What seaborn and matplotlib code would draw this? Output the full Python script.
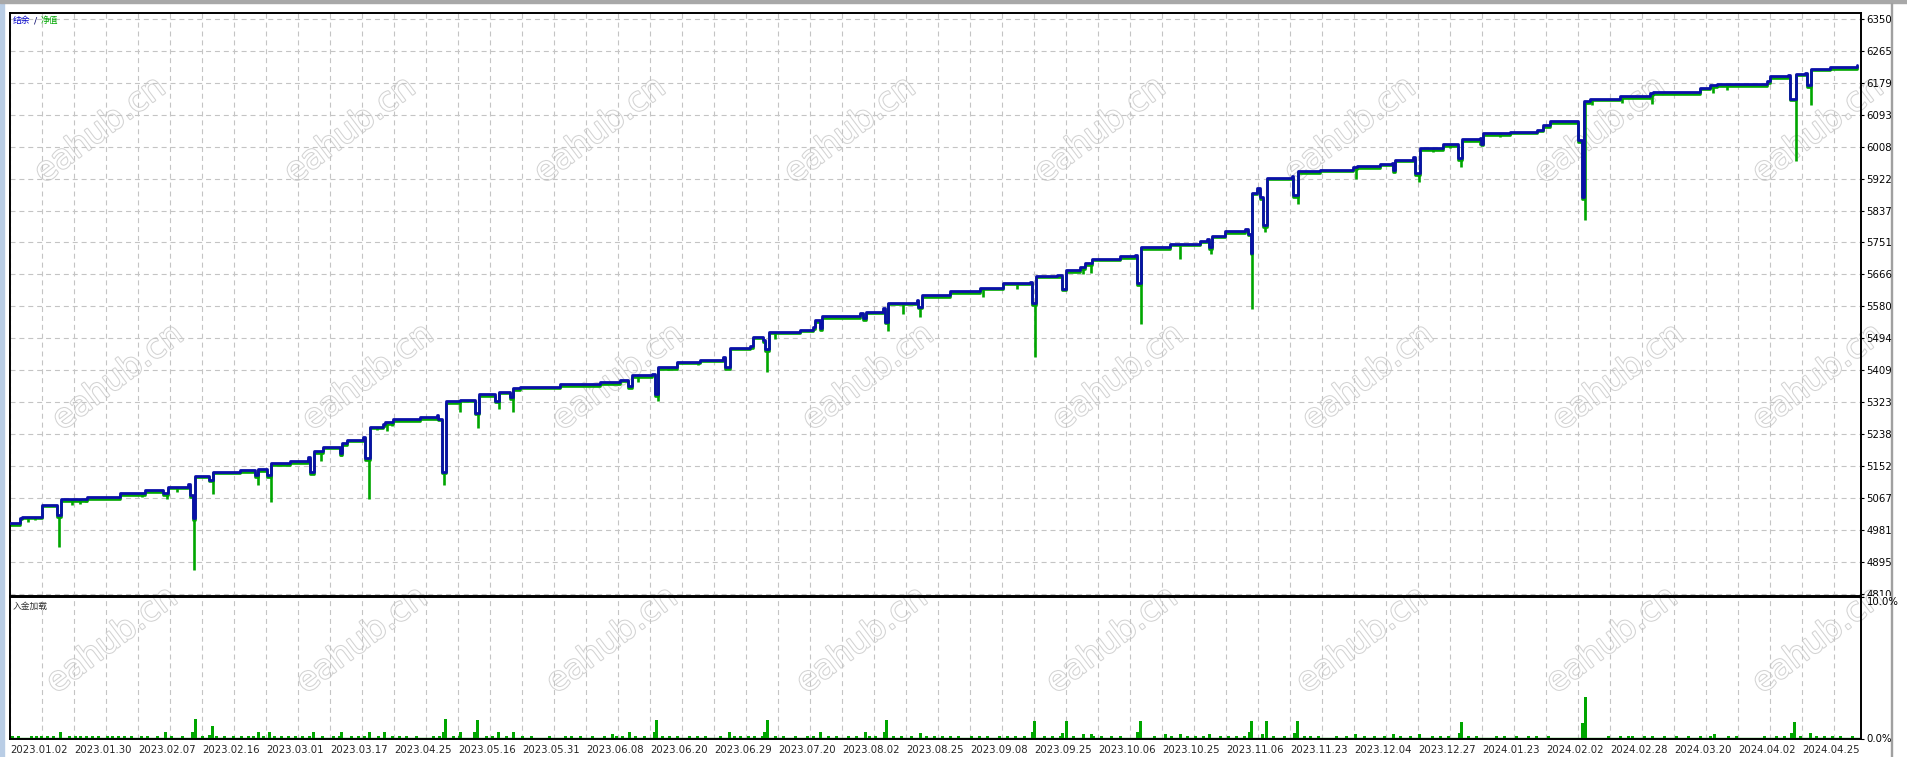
import matplotlib
matplotlib.use("Agg")
import matplotlib.pyplot as plt
import matplotlib.patheffects as pe
from matplotlib.patches import Rectangle
from matplotlib.transforms import Bbox, ScaledTranslation
import seaborn as sns
import numpy as np
import pandas as pd

W, H = 1907, 757

# balance curve (position along the test, balance)
bal_x = [0, 10, 12, 32, 47, 51, 77, 110, 135, 153, 158, 178, 180, 183, 185, 199, 203, 230, 245, 248,
         257, 261, 280, 298, 300, 304, 313, 330, 332, 337, 353, 355, 360, 373, 375, 383, 410, 427, 428, 432,
         436, 450, 465, 469, 485, 489, 500, 503, 510, 550, 590, 610, 618, 622, 642, 645, 648, 667, 690, 713,
         715, 720, 740, 743, 753, 755, 759, 790, 803, 805, 810, 812, 850, 853, 856, 873, 875, 878, 907, 908,
         912, 940, 970, 993, 1020, 1022, 1026, 1047, 1052, 1056, 1070, 1075, 1082, 1110, 1125, 1127, 1131, 1160, 1190, 1197,
         1199, 1202, 1215, 1235, 1238, 1241, 1242, 1247, 1250, 1253, 1257, 1282, 1283, 1288, 1310, 1343, 1347, 1370, 1382, 1383,
         1385, 1403, 1405, 1410, 1433, 1448, 1452, 1470, 1471, 1473, 1500, 1527, 1533, 1540, 1567, 1568, 1572, 1574, 1580, 1610,
         1640, 1643, 1690, 1700, 1707, 1757, 1760, 1778, 1780, 1786, 1795, 1797, 1801, 1820, 1847]
bal_v = [5000, 5015, 5017, 5049, 5022, 5064, 5070, 5080, 5088, 5080, 5098, 5105, 5075, 5013, 5127, 5116, 5138, 5142, 5129, 5145,
         5129, 5160, 5166, 5176, 5137, 5193, 5205, 5187, 5214, 5223, 5231, 5174, 5258, 5265, 5271, 5278, 5283, 5289, 5280, 5138,
         5327, 5330, 5296, 5345, 5328, 5352, 5337, 5361, 5365, 5372, 5378, 5384, 5367, 5396, 5400, 5345, 5417, 5432, 5437, 5445,
         5417, 5470, 5474, 5499, 5490, 5465, 5512, 5518, 5524, 5543, 5521, 5554, 5563, 5548, 5566, 5575, 5539, 5590, 5598, 5579,
         5610, 5621, 5630, 5644, 5646, 5588, 5662, 5664, 5628, 5677, 5685, 5695, 5708, 5715, 5717, 5642, 5739, 5748, 5756, 5760,
         5739, 5769, 5782, 5786, 5775, 5724, 5884, 5896, 5873, 5797, 5924, 5928, 5878, 5942, 5946, 5952, 5956, 5962, 5965, 5944,
         5973, 5980, 5936, 6003, 6014, 5976, 6027, 6030, 6016, 6043, 6048, 6053, 6065, 6075, 6076, 6025, 5873, 6129, 6136, 6143,
         6150, 6153, 6165, 6172, 6174, 6183, 6196, 6198, 6136, 6203, 6205, 6172, 6216, 6220, 6225]

# equity lows (floating drawdown spikes)
dd_x = [18, 25, 49, 62, 70, 76, 132, 157, 167, 184, 203, 248, 261, 278, 311, 331, 359, 367, 377, 382,
        434, 450, 468, 489, 503, 602, 628, 648, 658, 688, 757, 765, 878, 893, 910, 973, 1007, 1025, 1073, 1081,
        1131, 1170, 1201, 1242, 1255, 1288, 1346, 1409, 1423, 1440, 1451, 1470, 1490, 1500, 1525, 1575, 1582, 1612, 1642, 1703,
        1717, 1786, 1801]
dd_v = [5004, 5008, 4936, 5049, 5052, 5058, 5071, 5064, 5084, 4875, 5078, 5102, 5058, 5156, 5167, 5180, 5065, 5249, 5247, 5260,
        5102, 5298, 5256, 5305, 5297, 5372, 5378, 5328, 5409, 5423, 5405, 5492, 5515, 5560, 5552, 5606, 5626, 5444, 5668, 5670,
        5532, 5708, 5720, 5573, 5780, 5855, 5922, 5913, 5993, 6003, 5953, 6011, 6033, 6038, 6043, 5811, 6118, 6124, 6123, 6150,
        6158, 5969, 6120]

# deposit load (%)
load_x = [50, 155, 182, 185, 199, 202, 248, 259, 303, 331, 359, 374, 433, 435, 450, 464, 467, 488, 503, 602,
          619, 644, 646, 719, 754, 757, 810, 855, 874, 876, 910, 1022, 1024, 1052, 1056, 1073, 1081, 1127, 1130, 1155,
          1170, 1199, 1239, 1241, 1252, 1256, 1284, 1287, 1345, 1383, 1409, 1449, 1451, 1572, 1575, 1704, 1781, 1784, 1800]
load_h = [0.46, 0.46, 0.43, 1.39, 0.23, 0.9, 0.46, 0.43, 0.43, 0.43, 0.43, 0.46, 0.43, 1.39, 0.46, 0.43, 1.33, 0.46, 0.46, 0.29,
          0.43, 0.43, 1.33, 0.46, 0.43, 1.33, 0.46, 0.43, 0.43, 1.33, 0.38, 0.43, 1.27, 0.4, 1.27, 0.35, 0.35, 0.43, 1.24, 0.35,
          0.35, 0.29, 0.43, 1.27, 0.29, 1.27, 0.4, 1.22, 0.34, 0.34, 0.34, 0.4, 1.14, 1.1, 2.9, 0.34, 0.4, 1.14, 0.4]
stub_x = [2, 8, 21, 26, 31, 37, 43, 59, 65, 70, 76, 82, 88, 97, 102, 108, 114, 121, 131, 137, 147, 161, 172, 192, 206,
          214, 223, 231, 238, 243, 253, 264, 271, 278, 285, 292, 299, 312, 323, 329, 341, 348, 354, 368, 382, 389, 396, 406,
          423, 429, 443, 449, 476, 482, 496, 512, 521, 539, 555, 561, 570, 582, 594, 606, 612, 625, 634, 652, 659, 667, 679,
          687, 695, 710, 724, 730, 738, 744, 752, 765, 773, 785, 797, 803, 818, 826, 838, 846, 859, 865, 883, 891, 901, 916,
          924, 932, 940, 948, 961, 969, 977, 989, 997, 1005, 1014, 1034, 1042, 1050, 1063, 1083, 1091, 1101, 1110, 1144, 1161,
          1177, 1185, 1193, 1210, 1218, 1226, 1234, 1263, 1274, 1294, 1300, 1308, 1326, 1336, 1354, 1364, 1374, 1390, 1400,
          1422, 1430, 1438, 1458, 1466, 1486, 1494, 1506, 1518, 1526, 1538, 1598, 1610, 1618, 1622, 1634, 1642, 1654, 1666,
          1678, 1690, 1700, 1718, 1726, 1754, 1766, 1774, 1790, 1806, 1814, 1822, 1830, 1842]
stub_h = 0.2

date_labels = ['2023.01.02', '2023.01.30', '2023.02.07', '2023.02.16', '2023.03.01', '2023.03.17', '2023.04.25',
               '2023.05.16', '2023.05.31', '2023.06.08', '2023.06.20', '2023.06.29', '2023.07.20', '2023.08.02',
               '2023.08.25', '2023.09.08', '2023.09.25', '2023.10.06', '2023.10.25', '2023.11.06', '2023.11.23',
               '2023.12.04', '2023.12.27', '2024.01.23', '2024.02.02', '2024.02.28', '2024.03.20', '2024.04.02',
               '2024.04.25']
price_labels = ['4810', '4895', '4981', '5067', '5152', '5238', '5323', '5409', '5494', '5580', '5666', '5751',
                '5837', '5922', '6008', '6093', '6179', '6265', '6350']

BLUE = '#0a10a8'
GREEN = '#00a600'
GRID = '#c4c4c4'

sns.set_style("white")
plt.rcParams['font.family'] = ['Liberation Sans Narrow', 'DejaVu Sans']
plt.rcParams['font.size'] = 7.3
cjk = ['Noto Sans CJK SC', 'DejaVu Sans']

fig = plt.figure(figsize=(W / 100, H / 100), dpi=100)
fig.patch.set_facecolor('white')


def px_rect(l, t, r, b):
    return [l / W, 1 - b / H, (r - l) / W, (b - t) / H]


ax1 = fig.add_axes(px_rect(9.7, 12.7, 1861, 595.7))
ax2 = fig.add_axes(px_rect(9.7, 597, 1861, 738.5))

# watermarks
rows = [(130, 100), (377, 118), (640, 112)]
for wy, x0 in rows:
    for k in range(8):
        cx = min(x0 + 250 * k, 1818)
        fig.text(cx / W, 1 - wy / H, 'eahub.cn', rotation=37, fontsize=24,
                 family='DejaVu Sans', color='white', ha='center', va='center', zorder=-1,
                 path_effects=[pe.withStroke(linewidth=1.5, foreground='#d3d3d3')])

x_end = 1850.7
grid_major = np.arange(0, x_end, 64)
grid_minor = np.arange(32, x_end, 64)
y_ticks = np.linspace(4810, 6350, 19)

for ax in (ax1, ax2):
    ax.set_facecolor('none')
    ax.set_xlim(-0.6, x_end)
    ax.set_xticks(grid_major)
    ax.set_xticks(grid_minor, minor=True)
    ax.grid(True, which='both', axis='x', color=GRID, lw=0.8, ls=(0, (4.5, 3.5)))
    for s in ax.spines.values():
        s.set_color('black')
        s.set_linewidth(1.4)

# main panel
bal = pd.DataFrame({'x': bal_x, 'v': bal_v})
shift = ScaledTranslation(0, -0.016, fig.dpi_scale_trans)
sns.lineplot(data=bal, x='x', y='v', ax=ax1, color=GREEN, lw=1.9, drawstyle='steps-post',
             estimator=None, sort=False, transform=ax1.transData + shift, zorder=2)
idx = np.searchsorted(bal_x, dd_x, side='right') - 1
tops = np.array(bal_v)[idx]
ax1.vlines(dd_x, dd_v, tops, color=GREEN, lw=1.9, zorder=2)
sns.lineplot(data=bal, x='x', y='v', ax=ax1, color=BLUE, lw=2.0, drawstyle='steps-post',
             estimator=None, sort=False, zorder=3)

ax1.set_ylim(4806, 6366)
ax1.set_yticks(y_ticks)
ax1.set_yticklabels(price_labels)
ax1.yaxis.tick_right()
ax1.grid(True, axis='y', color=GRID, lw=0.8, ls=(0, (4.5, 3.5)))
ax1.tick_params(axis='y', length=2, width=0.8, pad=2, labelsize=7.3, colors='black')
ax1.tick_params(axis='x', which='both', length=0, labelbottom=False)
ax1.set_xlabel('')
ax1.set_ylabel('')
clip = Bbox.from_extents(0, H - 595.7, W, H)
for lbl in ax1.get_yticklabels():
    lbl.set_clip_box(clip)
    lbl.set_clip_on(True)

ax1.text(12.7 / W, 1 - 21 / H, '结余', transform=fig.transFigure, family=cjk, fontsize=6.3,
         color='#0000c8', va='center')
ax1.text(33.5 / W, 1 - 21 / H, '/', transform=fig.transFigure, fontsize=6.8,
         color='#101070', va='center')
ax1.text(40.5 / W, 1 - 21 / H, '净值', transform=fig.transFigure, family=cjk, fontsize=6.3,
         color=GREEN, va='center')

# deposit load panel
ax2.bar(stub_x, [stub_h] * len(stub_x), width=3.5, color=GREEN, linewidth=0)
ax2.bar(load_x, load_h, width=3.2, color=GREEN, linewidth=0)
ax2.axhline(0.06, color=GREEN, lw=1.0, zorder=1)
ax2.set_ylim(0, 10)
ax2.set_yticks([0, 10])
ax2.set_yticklabels(['0.0%', '10.0%'])
ax2.yaxis.tick_right()
ax2.tick_params(axis='y', length=2, width=0.8, pad=2, labelsize=7.3, colors='black')
ax2.get_yticklabels()[1].set_va('top')
ax2.set_xticklabels(date_labels, ha='left')
ax2.tick_params(axis='x', which='major', length=2, width=0.8, pad=3, labelsize=7.3)
ax2.tick_params(axis='x', which='minor', length=0)
ax2.text(13 / W, 1 - 606 / H, '入金加载', transform=fig.transFigure, family=cjk, fontsize=6.3,
         color='#303030', va='center')

# window chrome
fig.patches.append(Rectangle((0, 0), 3.5 / W, 1, transform=fig.transFigure, color='#b9cde5', zorder=-2))
fig.patches.append(Rectangle((0, 1 - 2.5 / H), 1, 2.5 / H, transform=fig.transFigure, color='#a8a8a8', zorder=-2))
fig.patches.append(Rectangle((1890.5 / W, 0), 1.2 / W, 1 - 2.5 / H, transform=fig.transFigure,
                             color='#a0a0a0', zorder=-2))

fig.savefig('out.png', dpi=100, facecolor='white')
